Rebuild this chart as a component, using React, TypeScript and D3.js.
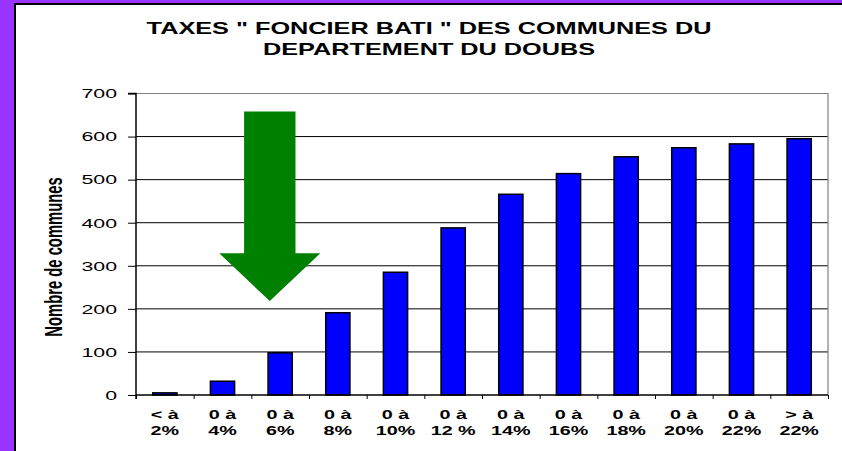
import React, { useEffect, useRef } from 'react';
import * as d3 from 'd3';

// Données
const categories = ['< à|2%', '0 à|4%', '0 à|6%', '0 à|8%', '0 à|10%', '0 à|12 %', '0 à|14%', '0 à|16%', '0 à|18%', '0 à|20%', '0 à|22%', '> à|22%'];
const communes = [5, 32, 98, 191, 285, 388, 466, 514, 553, 574, 583, 595];
const yTicks = [0, 100, 200, 300, 400, 500, 600, 700];
const titleLines = ['TAXES " FONCIER BATI " DES COMMUNES DU', 'DEPARTEMENT DU DOUBS'];
const yTitle = 'Nombre de communes';
// flèche verte (annotation) en unités de données : position de bande, valeurs haut / début pointe / pointe
const arrowBand = 2.32;
const arrowValues = [658, 329, 218];

const W = 842;
const H = 451;
const SX = 1.58; // le graphique d'origine est étiré horizontalement

const App = () => {
  const chartRef = useRef<SVGSVGElement | null>(null);

  useEffect(() => {
    const svg = d3.select(chartRef.current);
    svg.selectAll('*').remove();

    const margin = { top: 93.5, right: 14, bottom: 56, left: 136 };
    const width = W - margin.left - margin.right;
    const height = H - margin.top - margin.bottom;

    // cadre violet
    svg.append('rect').attr('width', W).attr('height', H).attr('fill', '#9933FF');
    svg
      .append('rect')
      .attr('x', 15)
      .attr('y', 4)
      .attr('width', W)
      .attr('height', H)
      .attr('fill', '#fff')
      .attr('stroke', '#000')
      .attr('stroke-width', 2);

    const font = 'Arial, "Liberation Sans", sans-serif';

    const stretchedText = (parent, x, y, txt, size, weight, anchor) =>
      parent
        .append('g')
        .attr('transform', `translate(${x},${y}) scale(${SX},1)`)
        .append('text')
        .attr('text-anchor', anchor)
        .style('font-family', font)
        .style('font-size', `${size}px`)
        .style('font-weight', weight)
        .attr('fill', '#000')
        .text(txt);

    // Titre
    titleLines.forEach((t, i) => {
      stretchedText(svg, 429, 34 + i * 21, t, 16, 'bold', 'middle');
    });

    const g = svg.append('g').attr('transform', `translate(${margin.left},${margin.top})`);

    const x = d3.scaleBand().domain(categories).range([0, width]).paddingInner(0.58).paddingOuter(0.29);
    const y = d3.scaleLinear().domain([0, 700]).range([height, 0]);
    const step = width / categories.length;

    // Lignes horizontales
    g.append('g')
      .selectAll('line')
      .data(yTicks.filter(d => d > 0 && d < 700))
      .enter()
      .append('line')
      .attr('x1', 0)
      .attr('x2', width)
      .attr('y1', d => y(d))
      .attr('y2', d => y(d))
      .attr('stroke', '#000')
      .attr('stroke-width', 1);

    // bord haut et droit gris
    g.append('path')
      .attr('d', `M0,${y(700)}H${width}V${y(0)}`)
      .attr('fill', 'none')
      .attr('stroke', '#808080')
      .attr('stroke-width', 1.2);

    // Flèche verte
    const ac = step * arrowBand;
    const [aTop, aHead, aTip] = arrowValues.map(v => y(v));
    g.append('path')
      .attr(
        'd',
        `M${ac - 25.7},${aTop}H${ac + 25.7}V${aHead}H${ac + 50.5}L${ac},${aTip}L${ac - 50.5},${aHead}H${ac - 25.7}Z`
      )
      .attr('fill', '#008000');

    // Barres
    g.append('g')
      .selectAll('rect')
      .data(communes)
      .enter()
      .append('rect')
      .attr('x', (d, i) => x(categories[i]))
      .attr('y', d => y(d))
      .attr('width', x.bandwidth())
      .attr('height', d => y(0) - y(d))
      .attr('fill', '#0000FF')
      .attr('stroke', '#000')
      .attr('stroke-width', 1.5);

    // Axe y
    g.append('g')
      .call(d3.axisLeft(y).tickValues(yTicks).tickSize(8).tickFormat(() => ''))
      .call(s => s.select('.domain').attr('stroke', '#000').attr('stroke-width', 1.5).attr('d', `M-8,${y(700)}H0V${y(0) + 4}`))
      .call(s => s.selectAll('.tick line').attr('stroke', '#000'));

    yTicks.forEach(v => {
      stretchedText(g, -19, y(v) + 4.8, String(v), 13.5, 'normal', 'end');
    });

    // Axe x
    g.append('g')
      .attr('transform', `translate(0,${height})`)
      .call(d3.axisBottom(d3.scaleLinear().domain([0, categories.length]).range([0, width])).tickValues(d3.range(0, categories.length + 1)).tickSize(4).tickFormat(() => ''))
      .call(s => s.select('.domain').attr('stroke', '#000').attr('stroke-width', 1.5).attr('d', `M0,0H${width}`))
      .call(s => s.selectAll('.tick line').attr('stroke', '#000'));

    categories.forEach(c => {
      const cx = x(c) + x.bandwidth() / 2;
      c.split('|').forEach((part, j) => {
        stretchedText(g, cx, height + 24 + j * 16, part, 12.5, 'bold', 'middle');
      });
    });

    // Titre de l'axe y
    g.append('g')
      .attr('transform', `translate(${62 - margin.left},${257 - margin.top}) rotate(-90) scale(1,${SX})`)
      .append('text')
      .attr('text-anchor', 'middle')
      .style('font-family', font)
      .style('font-size', '14.8px')
      .style('font-weight', 'bold')
      .text(yTitle);
  }, []);

  return (
    <svg
      ref={chartRef}
      width={W}
      height={H}
      style={{ position: 'absolute', left: 0, top: 0, display: 'block' }}
    />
  );
};

export default App;
